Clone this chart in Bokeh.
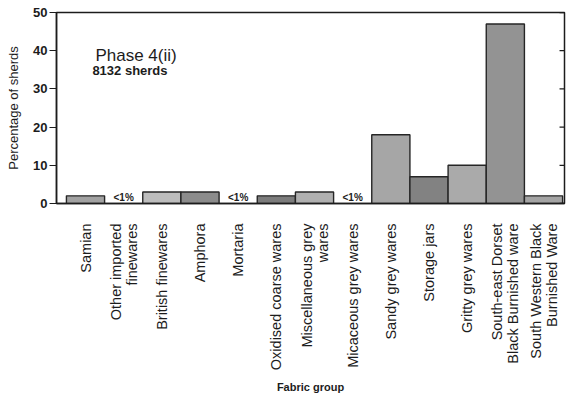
import math
from bokeh.plotting import figure
from bokeh.models import Range1d, FixedTicker, LinearAxis, Label, ColumnDataSource
from bokeh.embed import file_html
from bokeh.resources import INLINE
from bokeh.core.properties import value

categories = [
    "Samian",
    "Other imported\nfinewares",
    "British finewares",
    "Amphora",
    "Mortaria",
    "Oxidised coarse wares",
    "Miscellaneous grey\nwares",
    "Micaceous grey wares",
    "Sandy grey wares",
    "Storage jars",
    "Gritty grey wares",
    "South-east Dorset\nBlack Burnished ware",
    "South Western Black\nBurnished Ware",
]
# percentage of sherds; None = less than 1%
percentages = [2, None, 3, 3, None, 2, 3, None, 18, 7, 10, 47, 2]
y_ticks = [0, 10, 20, 30, 40, 50]
title_text = "Phase 4(ii)"
subtitle_text = "8132 sherds"

fills = ["#a2a2a2", "#ffffff", "#bdbdbd", "#8c8c8c", "#ffffff", "#7c7c7c", "#b0b0b0",
         "#ffffff", "#a6a6a6", "#828282", "#aaaaaa", "#939393", "#a4a4a4"]

FONT = "Liberation Sans"
INK = "#1c1c1c"
X_START, X_END = 0.24, 13.55

xs = list(range(1, len(categories) + 1))
bar_x = [x for x, v in zip(xs, percentages) if v is not None]
bar_top = [v for v in percentages if v is not None]
bar_fill = [f for f, v in zip(fills, percentages) if v is not None]
lt_x = [x for x, v in zip(xs, percentages) if v is None]

p = figure(frame_width=508, frame_height=191, output_backend="svg", toolbar_location=None,
           x_range=Range1d(X_START, X_END), y_range=Range1d(0, 50),
           min_border_left=56, min_border_top=12, min_border_right=2, min_border_bottom=2,
           x_axis_type=None, y_axis_type=None)
p.grid.visible = False
p.outline_line_color = INK
p.outline_line_width = 1.5

src = ColumnDataSource(dict(x=bar_x, top=bar_top, fill=bar_fill))
p.vbar(x="x", top="top", bottom=0, width=1.0, source=src, fill_color="fill",
       line_color="#262626", line_width=1.4)

lt_src = ColumnDataSource(dict(x=lt_x, y=[1.5] * len(lt_x), t=["<1%"] * len(lt_x)))
p.text(x="x", y="y", text="t", source=lt_src, text_align="center", text_baseline="middle",
       text_font=value(FONT), text_font_size="10px", text_font_style="bold", text_color=INK)

# inner ticks on the right edge of the frame
tick_len = 0.13
p.segment(x0=[X_END] * len(y_ticks), x1=[X_END - tick_len] * len(y_ticks),
          y0=y_ticks, y1=y_ticks, line_color=INK, line_width=1.3)

# y axis left
yax = LinearAxis(ticker=FixedTicker(ticks=y_ticks), axis_label="Percentage of sherds")
yax.axis_label_text_font = FONT
yax.axis_label_text_font_size = "13px"
yax.axis_label_text_font_style = "normal"
yax.axis_label_text_color = INK
yax.axis_label_standoff = 9
yax.major_label_text_font = FONT
yax.major_label_text_font_size = "13px"
yax.major_label_text_font_style = "bold"
yax.major_label_text_color = INK
yax.major_label_standoff = 2
yax.major_tick_out = 7
yax.major_tick_in = 0
yax.minor_tick_line_color = None
yax.axis_line_color = INK
yax.axis_line_width = 1.5
yax.major_tick_line_color = INK
p.add_layout(yax, "left")

# x axis
xax = LinearAxis(ticker=FixedTicker(ticks=xs), axis_label="Fabric group")
xax.major_label_overrides = {x: c for x, c in zip(xs, categories)}
xax.major_label_orientation = math.pi / 2
xax.major_label_text_font = FONT
xax.major_label_text_font_size = "14.5px"
xax.major_label_text_color = INK
xax.major_label_text_line_height = 1.0
xax.major_label_standoff = 20
xax.major_tick_out = 0
xax.major_tick_in = 0
xax.major_tick_line_color = None
xax.minor_tick_line_color = None
xax.axis_line_color = INK
xax.axis_line_width = 1.5
xax.axis_label_text_font = FONT
xax.axis_label_text_font_size = "11px"
xax.axis_label_text_font_style = "bold"
xax.axis_label_text_color = INK
xax.axis_label_standoff = 8
p.add_layout(xax, "below")

p.add_layout(Label(x=1.26, y=38.7, text=title_text, text_font=FONT, text_font_size="17px",
                   text_color=INK, text_baseline="alphabetic"))
p.add_layout(Label(x=1.18, y=34.8, text=subtitle_text, text_font=FONT, text_font_size="13px",
                   text_font_style="bold", text_color=INK, text_baseline="alphabetic"))

open("out.html", "w").write(file_html(p, INLINE))
